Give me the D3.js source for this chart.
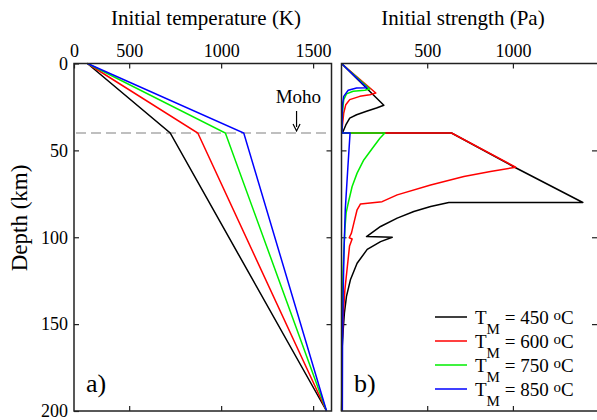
<!DOCTYPE html>
<html>
<head>
<meta charset="utf-8">
<script src="https://cdn.jsdelivr.net/npm/d3@7"></script>
<style>
body{margin:0;background:#fff;}
svg{display:block;font-family:"Liberation Serif","Times New Roman",serif;}
</style>
</head>
<body>
<div id="chart"></div>
<script>
//////////////////////data//////////////////////
var seriesNames=["450","600","750","850"];//T_M (oC)
var seriesColors=["#000000","#ff0000","#00ee00","#0000ff"];
var mohoDepth=40;//km

//a) 初期温度プロファイル [depth(km), T(K)]
var temp450=[[0,273],[40,723],[200,1573]];
var temp600=[[0,273],[40,873],[200,1573]];
var temp750=[[0,273],[40,1023],[200,1573]];
var temp850=[[0,273],[40,1123],[200,1573]];

//b) 初期強度プロファイル [depth(km), strength(Pa)]
var strength450=[[0,0],[24,247],[25.6,204],[27.5,146],[29.5,88],[31.4,48],[35,27],[39,10],[40,2],
    [40,642],[60,1016],[80,1408],[80,626],[82.3,520],[85.2,422],[89,325],[93.8,228],[98.6,160],[99.6,146],
    [100,296],[102.5,228],[107,150],[115,91],[124.5,52],[134,29],[143.6,17],[153,10],[165,3],[200,1]];
var strength600=[[0,0],[17,200],[18,165],[18.9,107],[20.8,48],[23.7,25],[28.5,13],[35,6],[40,2],
    [40,642],[59.7,1016],[62.2,869],[65,714],[69.9,520],[75.6,325],[79.5,237],[80.8,111],[84.2,91],
    [91.9,72],[97.6,58],[100.3,45],[101,62],[105,47],[117,34],[130,20],[145,10],[160,4],[200,1]];
var strength750=[[0,0],[14.7,165],[15.4,136],[16,68],[17.5,29],[20.8,13],[27.5,6],[40,2],
    [40,253],[43,224],[47.8,188],[55.5,130],[63.1,91],[70.8,62],[80,40],[86,27],[95,20],[105,15],
    [120,9],[140,4],[200,1]];
var strength850=[[0,0],[14,148],[14.1,88],[15.4,39],[18.9,13],[23.7,6],[30,4],[40,3],
    [40,50],[60,37],[84,22],[107,15],[130,10],[160,6],[200,5]];

var tempData=[temp450,temp600,temp750,temp850];
var strengthData=[strength450,strength600,strength750,strength850];

var depthTicks=[0,50,100,150,200];
var tempTicks=[200,500,1000,1500];
var tempTickLabels=["0","500","1000","1500"];
var strengthTicks=[500,1000];

//////////////////////描画//////////////////////
var width=597,height=420;
var svg=d3.select("#chart").append("svg").attr("width",width).attr("height",height);

var yScale=d3.scaleLinear().domain([0,200]).range([63.5,411]);
var xT=d3.scaleLinear().domain([200,1600]).range([74,331.5]);
var xS=d3.scaleLinear().domain([0,1500]).range([341.5,598.6]);

var fs=18;

function frame(x0,x1){
    svg.append("rect")
    .attr("x",x0).attr("y",yScale(0))
    .attr("width",x1-x0).attr("height",yScale(200)-yScale(0))
    .attr("fill","none").attr("stroke","#222").attr("stroke-width",1.5);
}
function styleAxis(g){
    g.select(".domain").remove();
    g.selectAll(".tick line").attr("stroke","#222").attr("stroke-width",1.2);
    g.selectAll("text").attr("font-family","Liberation Serif, Times New Roman, serif").attr("font-size",fs).attr("fill","#000");
}

//---- a) 温度 ----
svg.append("g").attr("transform","translate("+xT.range()[0]+",0)")
.call(d3.axisLeft(yScale).tickValues(depthTicks).tickSize(-5).tickPadding(6))
.call(styleAxis);
svg.append("g").attr("transform","translate("+xT.range()[1]+",0)")
.call(d3.axisRight(yScale).tickValues([50,100,150]).tickSize(-5).tickFormat(""))
.call(styleAxis);
svg.append("g").attr("transform","translate(0,"+yScale(0)+")")
.call(d3.axisTop(xT).tickValues(tempTicks).tickSize(-5).tickPadding(7)
    .tickFormat(function(d,i){return tempTickLabels[i];}))
.call(styleAxis);
svg.append("g").attr("transform","translate(0,"+yScale(200)+")")
.call(d3.axisBottom(xT).tickValues([500,1000,1500]).tickSize(-5).tickFormat(""))
.call(styleAxis);

//Moho破線
svg.append("line")
.attr("x1",xT.range()[0]+2).attr("x2",xT.range()[1])
.attr("y1",yScale(mohoDepth)).attr("y2",yScale(mohoDepth))
.attr("stroke","#aaa").attr("stroke-width",1.5).attr("stroke-dasharray","10,5");

var lineT=d3.line().x(function(d){return xT(d[1]);}).y(function(d){return yScale(d[0]);});
tempData.forEach(function(arr,n){
    svg.append("path").attr("d",lineT(arr))
    .attr("fill","none").attr("stroke",seriesColors[n]).attr("stroke-width",1.5);
});
frame(xT.range()[0],xT.range()[1]);

//Moho ラベル・矢印
svg.append("text").attr("x",xT(1420)).attr("y",103)
.attr("text-anchor","middle").attr("font-size",19).text("Moho");
svg.append("line").attr("x1",xT(1410)).attr("x2",xT(1410))
.attr("y1",111).attr("y2",127).attr("stroke","#000").attr("stroke-width",1.2);
svg.append("path")
.attr("d","M"+(xT(1410)-3.5)+",124 L"+xT(1410)+",131 L"+(xT(1410)+3.5)+",124")
.attr("fill","none").attr("stroke","#000").attr("stroke-width",1.2);

svg.append("text").attr("x",86).attr("y",392).attr("font-size",26).text("a)");

//---- b) 強度 ----
svg.append("g").attr("transform","translate("+xS.range()[0]+",0)")
.call(d3.axisLeft(yScale).tickValues([50,100,150]).tickSize(-5).tickFormat(""))
.call(styleAxis);
svg.append("g").attr("transform","translate(597,0)")
.call(d3.axisRight(yScale).tickValues([50,100,150]).tickSize(-5).tickFormat(""))
.call(styleAxis);
svg.append("g").attr("transform","translate(0,"+yScale(0)+")")
.call(d3.axisTop(xS).tickValues(strengthTicks).tickSize(-5).tickPadding(7).tickFormat(d3.format("d")))
.call(styleAxis);
svg.append("g").attr("transform","translate(0,"+yScale(200)+")")
.call(d3.axisBottom(xS).tickValues(strengthTicks).tickSize(-5).tickFormat(""))
.call(styleAxis);

var lineS=d3.line().x(function(d){return xS(d[1]);}).y(function(d){return yScale(d[0]);});
strengthData.forEach(function(arr,n){
    svg.append("path").attr("d",lineS(arr))
    .attr("fill","none").attr("stroke",seriesColors[n]).attr("stroke-width",1.5)
    .attr("stroke-linejoin","round");
});
frame(xS.range()[0],xS.range()[1]);

svg.append("text").attr("x",354).attr("y",392).attr("font-size",26).text("b)");

//凡例
seriesNames.forEach(function(name,n){
    var ly=317+n*24;
    svg.append("line").attr("x1",435).attr("x2",467).attr("y1",ly).attr("y2",ly)
    .attr("stroke",seriesColors[n]).attr("stroke-width",1.5);
    var t=svg.append("text").attr("x",475).attr("y",ly+7).attr("font-size",19);
    t.append("tspan").text("T");
    t.append("tspan").attr("dy",10).attr("font-size",15).text("M");
    t.append("tspan").attr("dy",-10).text(" = "+name+" ");
    t.append("tspan").attr("dy",-4).attr("font-size",15).text("o");
    t.append("tspan").attr("dy",4).text("C");
});

//軸タイトル
svg.append("text").attr("x",206).attr("y",25).attr("text-anchor","middle")
.attr("font-size",21).text("Initial temperature (K)");
svg.append("text").attr("x",463).attr("y",25).attr("text-anchor","middle")
.attr("font-size",21).text("Initial strength (Pa)");
svg.append("text").attr("transform","translate(27,218) rotate(-90)")
.attr("text-anchor","middle").attr("font-size",23).text("Depth (km)");
</script>
</body>
</html>
